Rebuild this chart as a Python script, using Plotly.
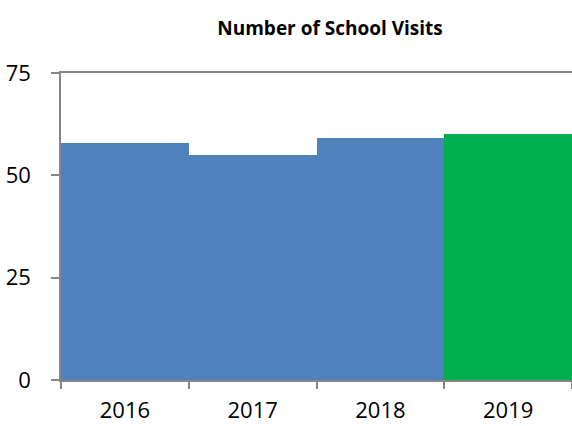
import plotly.graph_objects as go

years = ["2016", "2017", "2018", "2019"]
visits = [58, 55, 59, 60]
colors = ["#4F81BD", "#4F81BD", "#4F81BD", "#00B050"]
y_ticks = [0, 25, 50, 75]

fig = go.Figure(go.Bar(x=years, y=visits, marker=dict(color=colors, line=dict(width=0)), width=1.0))

fig.update_layout(
    width=572, height=426,
    margin=dict(l=61, r=0, t=73, b=46),
    paper_bgcolor="white", plot_bgcolor="white",
    font=dict(family="Open Sans", color="black", size=22),
    title=dict(text="<b>Number of School Visits</b>", x=0.577, xanchor="center", y=0.934, yanchor="middle",
               font=dict(size=19, family="Open Sans")),
    bargap=0, showlegend=False,
)
fig.update_xaxes(type="category", showline=True, mirror=True, linecolor="#868686", linewidth=1.5,
                 ticks="outside", tickson="boundaries", ticklen=7, tickcolor="#868686", tickwidth=1.5,
                 ticklabelstandoff=10, showgrid=False)
fig.update_yaxes(range=[0, 75], tickvals=y_ticks, showline=True, linecolor="#868686", linewidth=1.5,
                 ticks="outside", ticklen=8, tickcolor="#868686", tickwidth=1.5,
                 showgrid=True, gridcolor="#868686", gridwidth=2, zeroline=False,
                 ticklabelstandoff=16)

fig.write_html("out.html", config={"displayModeBar": False},
               post_script="document.body.style.margin='0';document.body.style.overflow='hidden';")
